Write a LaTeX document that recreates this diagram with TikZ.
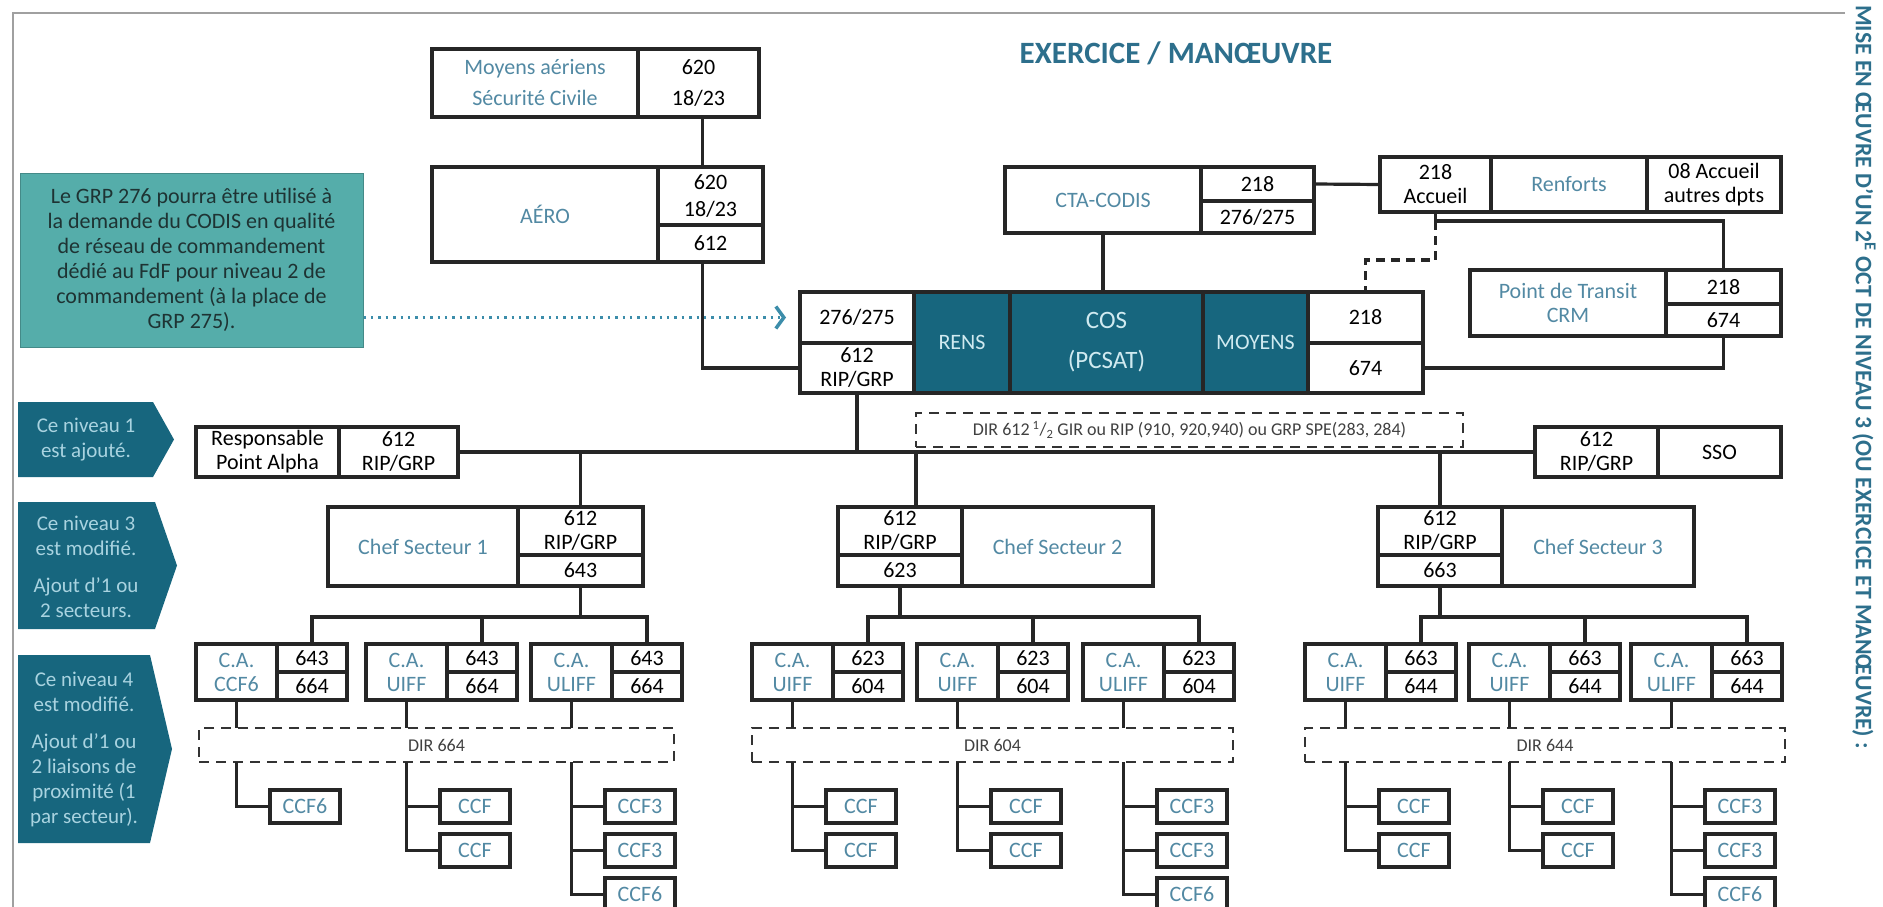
\documentclass[tikz,border=0pt]{standalone}
\usepackage{fontspec}
\setmainfont{Carlito}
\usetikzlibrary{arrows.meta}

\definecolor{labblue}{HTML}{5289A3}
\definecolor{tealdark}{HTML}{17667E}
\definecolor{costext}{HTML}{D0EAF0}
\definecolor{chevtext}{HTML}{A9D3E0}
\definecolor{notefill}{HTML}{55ADAA}
\definecolor{notetext}{HTML}{1E3333}
\definecolor{titleblue}{HTML}{2D6F8C}
\definecolor{framegray}{HTML}{A0A0A0}
\definecolor{arrowblue}{HTML}{3C8DAA}

\tikzset{
  cell/.style={draw=black!85, line width=3.2pt, anchor=north west, inner sep=0pt,
    outer sep=0pt, align=center, font=\fontsize{22}{24}\selectfont},
  wh/.style 2 args={minimum width=#1pt, minimum height=#2pt},
  lab/.style={text=labblue},
  cosbox/.style={cell, fill=tealdark, text=costext},
  dirbox/.style={draw=black!80, line width=2.6pt, dash pattern=on 10pt off 7pt,
    anchor=north west, inner sep=0pt, outer sep=0pt, text=black!75,
    font=\fontsize{18}{20}\selectfont},
  link/.style={draw=black!85, line width=3.2pt},
  dashlink/.style={link, dash pattern=on 9pt off 6pt},
  chevtxt/.style={text=chevtext, align=center, inner sep=0pt, font=\fontsize{21}{25}\selectfont},
}

\begin{document}
\begin{tikzpicture}[x=1pt,y=-1pt]
\useasboundingbox (0,0) rectangle (1883,907);
\clip (0,0) rectangle (1883,907);

% frame and titles
\draw[framegray, line width=2.6pt] (1845,13) -- (13,13) -- (13,907);
\node[text=titleblue, font=\bfseries\fontsize{31}{31}\selectfont] (title) at (1176,53)
{EXERCICE / MANŒUVRE};
\node[rotate=-90, anchor=west, inner sep=0pt, text=titleblue,
  font=\bfseries\fontsize{23.7}{23.7}\selectfont] (sidetitle) at (1864,5)
{MISE EN ŒUVRE D’UN 2\textsuperscript{E} OCT DE NIVEAU 3 (OU EXERCICE ET MANŒUVRE) :};

% note
\node[fill=notefill, draw=notefill!80!black, line width=1pt, wh={343}{174}, align=center,
  text=notetext, font=\fontsize{22}{25}\selectfont] (note) at (191.5,260)
{Le GRP 276 pourra être utilisé à\\
la demande du CODIS en qualité\\
de réseau de commandement\\
dédié au FdF pour niveau 2 de\\
commandement (à la place de\\
GRP 275).};

% level chevrons
\fill[tealdark] (18,402) -- (153,402) -- (174,439.5) -- (153,477) -- (18,477) -- cycle;
\node[chevtxt] (lvlone) at (86,440) {Ce niveau 1\\est ajouté.};
\fill[tealdark] (18,502) -- (155,502) -- (177,565.5) -- (155,629) -- (18,629) -- cycle;
\node[chevtxt] (lvlthree) at (86,567) {Ce niveau 3\\est modifié.\\[12pt]Ajout d’1 ou\\2 secteurs.};
\fill[tealdark] (18,655) -- (150,655) -- (172,749) -- (150,843) -- (18,843) -- cycle;
\node[chevtxt] (lvlfour) at (84,749)
{Ce niveau 4\\est modifié.\\[12pt]Ajout d’1 ou\\2 liaisons de\\proximité (1\\par secteur).};

% air means
\node[cell, lab, wh={206}{68}, font=\fontsize{22}{31}\selectfont] (moyair) at (432,49) {Moyens aériens\\Sécurité Civile};
\node[cell, wh={121}{68}, font=\fontsize{22}{31}\selectfont] (moynum) at (638,49) {620\\18/23};
\node[cell, lab, wh={226}{95}] (aero) at (432,167) {AÉRO};
\node[cell, wh={105}{58}, font=\fontsize{22}{27}\selectfont] (aeronum) at (658,167) {620\\18/23};
\node[cell, wh={105}{37}] (aerolow) at (658,225) {612};

% COS block
\node[cell, wh={114}{51}] (cosl1) at (800,292) {276/275};
\node[cell, wh={114}{50}] (cosl2) at (800,343) {612\\RIP/GRP};
\node[cosbox, wh={96}{101}] (rens) at (914,292) {RENS};
\node[cosbox, wh={193}{101}, font=\fontsize{25}{40}\selectfont] (cos) at (1010,292) {COS\\(PCSAT)};
\node[cosbox, wh={105}{101}] (moyens) at (1203,292) {MOYENS};
\node[cell, wh={115}{51}] (cosr1) at (1308,292) {218};
\node[cell, wh={115}{50}] (cosr2) at (1308,343) {674};

% CTA, renforts, transit
\node[cell, lab, wh={196}{66}] (cta) at (1005,167) {CTA-CODIS};
\node[cell, wh={113}{34}] (ctan1) at (1201,167) {218};
\node[cell, wh={113}{32}] (ctan2) at (1201,201) {276/275};
\node[cell, wh={111}{55}] (renacc) at (1380,157) {218\\Accueil};
\node[cell, lab, wh={156}{55}] (renf) at (1491,157) {Renforts};
\node[cell, wh={134}{55}] (renaut) at (1647,157) {08 Accueil\\autres dpts};
\node[cell, lab, wh={196}{66}] (ptcrm) at (1470,270) {Point de Transit\\CRM};
\node[cell, wh={115}{34}] (ptn1) at (1666,270) {218};
\node[cell, wh={115}{32}] (ptn2) at (1666,304) {674};

\draw[link] ([xshift=-8pt]aeronum.north) -- ([xshift=-8pt]aeronum.north |- moynum.south);
\draw[link] ([xshift=-8pt]aerolow.south) |- (cosl2.west);
\draw[arrowblue, line width=2.4pt, dash pattern=on 2.4pt off 5pt, shorten >=14pt,
  -{Straight Barb[length=8pt, width=22pt, line width=3.5pt]}] (note.east |- cosl1.west) -- (cosl1.west);
\draw[link] (cta.south) -- (cta.south |- cos.north);
\draw[link] (ctan1.east) -- (renacc.west);
\draw[link] (renacc.south) -- ++(0,9) coordinate (accj) -| (ptn1.north);
\draw[dashlink] (accj) -- ++(0,39) -| (cosr1.north);
\draw[link] (cosr2.east) -| (ptn2.south);

% level 1
\node[cell, wh={143}{50}] (resp) at (196,427) {Responsable\\Point Alpha};
\node[cell, wh={119}{50}] (respnum) at (339,427) {612\\RIP/GRP};
\node[cell, wh={123}{50}] (ssonum) at (1535,427) {612\\RIP/GRP};
\node[cell, wh={123}{50}] (sso) at (1658,427) {SSO};
\node[dirbox, wh={547}{34}] (dirmain) at (916,413)
{DIR 612\,\textsuperscript{1}/\textsubscript{2} GIR ou RIP (910, 920,940) ou GRP SPE(283, 284)};

% sector chiefs
\node[cell, lab, wh={190}{79}] (chefone) at (328,507) {Chef Secteur 1};
\node[cell, wh={125}{48}] (chefonea) at (518,507) {612\\RIP/GRP};
\node[cell, wh={125}{31}] (chefoneb) at (518,555) {643};
\node[cell, wh={124}{48}] (cheftwoa) at (838,507) {612\\RIP/GRP};
\node[cell, wh={124}{31}] (cheftwob) at (838,555) {623};
\node[cell, lab, wh={191}{79}] (cheftwo) at (962,507) {Chef Secteur 2};
\node[cell, wh={124}{48}] (chefthreea) at (1378,507) {612\\RIP/GRP};
\node[cell, wh={124}{31}] (chefthreeb) at (1378,555) {663};
\node[cell, lab, wh={192}{79}] (chefthree) at (1502,507) {Chef Secteur 3};

\draw[link] (respnum.east) -- (ssonum.west);
\draw[link] (cosl2.south) -- (cosl2.south |- respnum.east);
\draw[link] (chefonea.north) -- (chefonea.north |- respnum.east);
\draw[link] (cheftwoa.north -| dirmain.west) -- (respnum.east -| dirmain.west);
\draw[link] (chefthreea.north) -- (chefthreea.north |- respnum.east);

% C.A. boxes, sector 1
\node[cell, lab, wh={81}{56}] (caone) at (196,644) {C.A.\\CCF6};
\node[cell, wh={70}{28}] (caonea) at (277,644) {643};
\node[cell, wh={70}{28}] (caoneb) at (277,672) {664};
\node[cell, lab, wh={81}{56}] (catwo) at (366,644) {C.A.\\UIFF};
\node[cell, wh={70}{28}] (catwoa) at (447,644) {643};
\node[cell, wh={70}{28}] (catwob) at (447,672) {664};
\node[cell, lab, wh={81}{56}] (cathree) at (531,644) {C.A.\\ULIFF};
\node[cell, wh={70}{28}] (cathreea) at (612,644) {643};
\node[cell, wh={70}{28}] (cathreeb) at (612,672) {664};

% C.A. boxes, sector 2
\node[cell, lab, wh={81}{56}] (cafour) at (752,644) {C.A.\\UIFF};
\node[cell, wh={70}{28}] (cafoura) at (833,644) {623};
\node[cell, wh={70}{28}] (cafourb) at (833,672) {604};
\node[cell, lab, wh={81}{56}] (cafive) at (917,644) {C.A.\\UIFF};
\node[cell, wh={70}{28}] (cafivea) at (998,644) {623};
\node[cell, wh={70}{28}] (cafiveb) at (998,672) {604};
\node[cell, lab, wh={81}{56}] (casix) at (1083,644) {C.A.\\ULIFF};
\node[cell, wh={70}{28}] (casixa) at (1164,644) {623};
\node[cell, wh={70}{28}] (casixb) at (1164,672) {604};

% C.A. boxes, sector 3
\node[cell, lab, wh={81}{56}] (caseven) at (1305,644) {C.A.\\UIFF};
\node[cell, wh={70}{28}] (casevena) at (1386,644) {663};
\node[cell, wh={70}{28}] (casevenb) at (1386,672) {644};
\node[cell, lab, wh={81}{56}] (caeight) at (1469,644) {C.A.\\UIFF};
\node[cell, wh={70}{28}] (caeighta) at (1550,644) {663};
\node[cell, wh={70}{28}] (caeightb) at (1550,672) {644};
\node[cell, lab, wh={81}{56}] (canine) at (1631,644) {C.A.\\ULIFF};
\node[cell, wh={70}{28}] (caninea) at (1712,644) {663};
\node[cell, wh={70}{28}] (canineb) at (1712,672) {644};

\draw[link] (caonea.north) -- ++(0,-27) coordinate (busone) -| (cathreea.north);
\draw[link] (catwoa.north) -- ++(0,-27);
\draw[link] (chefoneb.south) -- (chefoneb.south |- busone);
\draw[link] (cafoura.north) -- ++(0,-27) coordinate (bustwo) -| (casixa.north);
\draw[link] (cafivea.north) -- ++(0,-27);
\draw[link] (cheftwob.south) -- (cheftwob.south |- bustwo);
\draw[link] (casevena.north) -- ++(0,-27) coordinate (busthree) -| (caninea.north);
\draw[link] (caeighta.north) -- ++(0,-27);
\draw[link] (chefthreeb.south) -- (chefthreeb.south |- busthree);

% DIR boxes
\node[dirbox, wh={475}{34}] (dirone) at (199,728) {DIR 664};
\node[dirbox, wh={481}{34}] (dirtwo) at (752,728) {DIR 604};
\node[dirbox, wh={480}{34}] (dirthree) at (1305,728) {DIR 644};

\draw[link] (caone.south) -- (caone.south |- dirone.north);
\draw[link] (catwo.south) -- (catwo.south |- dirone.north);
\draw[link] (cathree.south) -- (cathree.south |- dirone.north);
\draw[link] (cafour.south) -- (cafour.south |- dirtwo.north);
\draw[link] (cafive.south) -- (cafive.south |- dirtwo.north);
\draw[link] (casix.south) -- (casix.south |- dirtwo.north);
\draw[link] (caseven.south) -- (caseven.south |- dirthree.north);
\draw[link] (caeight.south) -- (caeight.south |- dirthree.north);
\draw[link] (canine.south) -- (canine.south |- dirthree.north);

% CCF, sector 1
\node[cell, lab, wh={70}{33}] (ccfonea) at (270,790) {CCF6};
\node[cell, lab, wh={70}{33}] (ccftwoa) at (440,790) {CCF};
\node[cell, lab, wh={70}{33}] (ccftwob) at (440,834) {CCF};
\node[cell, lab, wh={70}{33}] (ccfthreea) at (605,790) {CCF3};
\node[cell, lab, wh={70}{33}] (ccfthreeb) at (605,834) {CCF3};
\node[cell, lab, wh={70}{33}] (ccfthreec) at (605,878) {CCF6};

% CCF, sector 2
\node[cell, lab, wh={70}{33}] (ccffoura) at (826,790) {CCF};
\node[cell, lab, wh={70}{33}] (ccffourb) at (826,834) {CCF};
\node[cell, lab, wh={70}{33}] (ccffivea) at (991,790) {CCF};
\node[cell, lab, wh={70}{33}] (ccffiveb) at (991,834) {CCF};
\node[cell, lab, wh={70}{33}] (ccfsixa) at (1157,790) {CCF3};
\node[cell, lab, wh={70}{33}] (ccfsixb) at (1157,834) {CCF3};
\node[cell, lab, wh={70}{33}] (ccfsixc) at (1157,878) {CCF6};

% CCF, sector 3
\node[cell, lab, wh={70}{33}] (ccfsevena) at (1379,790) {CCF};
\node[cell, lab, wh={70}{33}] (ccfsevenb) at (1379,834) {CCF};
\node[cell, lab, wh={70}{33}] (ccfeighta) at (1543,790) {CCF};
\node[cell, lab, wh={70}{33}] (ccfeightb) at (1543,834) {CCF};
\node[cell, lab, wh={70}{33}] (ccfninea) at (1705,790) {CCF3};
\node[cell, lab, wh={70}{33}] (ccfnineb) at (1705,834) {CCF3};
\node[cell, lab, wh={70}{33}] (ccfninec) at (1705,878) {CCF6};

\draw[link] (caone.south |- dirone.south) |- (ccfonea.west);
\draw[link] (catwo.south |- dirone.south) |- (ccftwob.west);
\draw[link] (ccftwoa.west) -- (ccftwoa.west -| catwo.south);
\draw[link] (cathree.south |- dirone.south) |- (ccfthreec.west);
\draw[link] (ccfthreea.west) -- (ccfthreea.west -| cathree.south);
\draw[link] (ccfthreeb.west) -- (ccfthreeb.west -| cathree.south);

\draw[link] (cafour.south |- dirtwo.south) |- (ccffourb.west);
\draw[link] (ccffoura.west) -- (ccffoura.west -| cafour.south);
\draw[link] (cafive.south |- dirtwo.south) |- (ccffiveb.west);
\draw[link] (ccffivea.west) -- (ccffivea.west -| cafive.south);
\draw[link] (casix.south |- dirtwo.south) |- (ccfsixc.west);
\draw[link] (ccfsixa.west) -- (ccfsixa.west -| casix.south);
\draw[link] (ccfsixb.west) -- (ccfsixb.west -| casix.south);

\draw[link] (caseven.south |- dirthree.south) |- (ccfsevenb.west);
\draw[link] (ccfsevena.west) -- (ccfsevena.west -| caseven.south);
\draw[link] (caeight.south |- dirthree.south) |- (ccfeightb.west);
\draw[link] (ccfeighta.west) -- (ccfeighta.west -| caeight.south);
\draw[link] (canine.south |- dirthree.south) |- (ccfninec.west);
\draw[link] (ccfninea.west) -- (ccfninea.west -| canine.south);
\draw[link] (ccfnineb.west) -- (ccfnineb.west -| canine.south);
\end{tikzpicture}
\end{document}
